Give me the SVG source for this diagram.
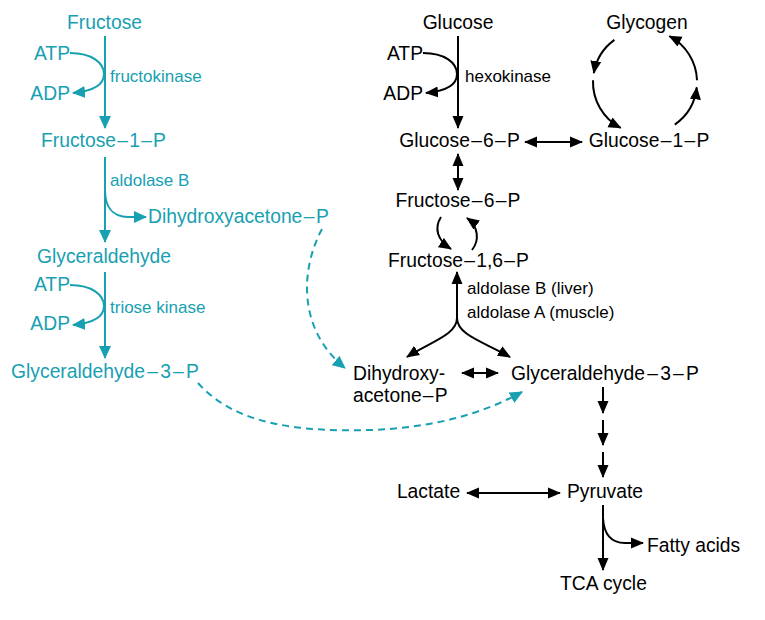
<svg xmlns="http://www.w3.org/2000/svg" width="765" height="620" viewBox="0 0 765 620">
<style>
text{font-family:"Liberation Sans",Arial,Helvetica,sans-serif;font-size:19.3px;fill:#000}
.t text,text.t{fill:#17a0b2}
.enz{font-size:17px}
.m{text-anchor:middle}
.e{text-anchor:end}
.lk{fill:none;stroke:#000;stroke-width:2}
.lt{fill:none;stroke:#17a0b2;stroke-width:2}
.dash{stroke-dasharray:7,5}
</style>
<defs>
<marker id="ak" markerUnits="userSpaceOnUse" markerWidth="13" markerHeight="12" refX="12" refY="6" orient="auto-start-reverse" viewBox="0 0 13 12">
<path d="M0,0.5 L13,6 L0,11.5 z" fill="#000"/>
</marker>
<marker id="at" markerUnits="userSpaceOnUse" markerWidth="13" markerHeight="13" refX="12" refY="6.5" orient="auto-start-reverse" viewBox="0 0 13 13">
<path d="M0,0.5 L13,6.5 L0,12.5 z" fill="#17a0b2"/>
</marker>
<path id="kin" d="M70,53 C92,53 104,63 104,74 C104,85 94,91 73,93"/>
</defs>
<rect width="765" height="620" fill="#fff"/>

<g id="connectors">
<line class="lt" x1="105" y1="36" x2="105" y2="128" marker-end="url(#at)"/>
<use href="#kin" class="lt" marker-end="url(#at)"/>
<line class="lt" x1="105" y1="157" x2="105" y2="242" marker-end="url(#at)"/>
<path class="lt" d="M105,190 C105,206 112,217 128,217 L146,217" marker-end="url(#at)"/>
<line class="lt" x1="105" y1="272" x2="105" y2="358" marker-end="url(#at)"/>
<use href="#kin" class="lt" transform="translate(0,232)" marker-end="url(#at)"/>
<path class="lt dash" d="M322,229 C300,270 298,330 345,368" marker-end="url(#at)"/>
<path class="lt dash" d="M198,383 C235,425 300,432 370,430 C430,428 480,415 522,392" marker-end="url(#at)"/>
<line class="lk" x1="458" y1="36" x2="458" y2="128" marker-end="url(#ak)"/>
<use href="#kin" class="lk" transform="translate(353,0)" marker-end="url(#ak)"/>
<line class="lk" x1="525" y1="142" x2="582" y2="142" marker-start="url(#ak)" marker-end="url(#ak)"/>
<path class="lk" d="M614.4,39.9 A52,52 0 0 0 593.8,73" marker-end="url(#ak)"/>
<path class="lk" d="M593,80.2 A52,52 0 0 0 620.6,127.9" marker-end="url(#ak)"/>
<path class="lk" d="M674.8,124.6 A52,52 0 0 0 696.7,87.4" marker-end="url(#ak)"/>
<path class="lk" d="M697,80.2 A52,52 0 0 0 669.4,36.1" marker-end="url(#ak)"/>
<line class="lk" x1="458" y1="154" x2="458" y2="190" marker-start="url(#ak)" marker-end="url(#ak)"/>
<path class="lk" d="M441,217 C434,228 437,240 451,249" marker-end="url(#ak)"/>
<path class="lk" d="M472,250 C480,240 478,226 467,218" marker-end="url(#ak)"/>
<line class="lk" x1="457" y1="320" x2="457" y2="272" marker-end="url(#ak)"/>
<path class="lk" d="M457,318 C457,335 430,342 407,357" marker-end="url(#ak)"/>
<path class="lk" d="M457,318 C457,335 484,342 510,357" marker-end="url(#ak)"/>
<line class="lk" x1="462" y1="373" x2="498" y2="373" marker-start="url(#ak)" marker-end="url(#ak)"/>
<line class="lk" x1="603" y1="387" x2="603" y2="413" marker-end="url(#ak)"/>
<line class="lk" x1="603" y1="420" x2="603" y2="445" marker-end="url(#ak)"/>
<line class="lk" x1="603" y1="452" x2="603" y2="477" marker-end="url(#ak)"/>
<line class="lk" x1="467" y1="493" x2="560" y2="493" marker-start="url(#ak)" marker-end="url(#ak)"/>
<line class="lk" x1="603" y1="505" x2="603" y2="570" marker-end="url(#ak)"/>
<path class="lk" d="M603,518 C604,535 612,543 625,543 L643,543" marker-end="url(#ak)"/>
</g>

<g class="t">
<g id="fructose"><text class="m" x="104.5" y="29">Fructose</text></g>
<g id="atp1"><text class="e" x="70" y="60">ATP</text></g>
<g id="adp1"><text class="e" x="70" y="100">ADP</text></g>
<g id="fructokinase"><text class="enz" x="110" y="82">fructokinase</text></g>
<g id="fructose1p"><text class="m" x="103.5" y="147">Fructose<tspan dx="1.2">–</tspan><tspan dx="1.2">1</tspan><tspan dx="1.2">–</tspan><tspan dx="1.2">P</tspan></text></g>
<g id="aldolaseB"><text class="enz" x="110" y="186">aldolase B</text></g>
<g id="dhap1"><text x="148" y="223">Dihydroxyacetone<tspan dx="1.5">–</tspan><tspan dx="1.5">P</tspan></text></g>
<g id="glyceraldehyde"><text class="m" x="104" y="263">Glyceraldehyde</text></g>
<g id="atp2"><text class="e" x="70" y="291">ATP</text></g>
<g id="adp2"><text class="e" x="70" y="330">ADP</text></g>
<g id="triosekinase"><text class="enz" x="110" y="313">triose kinase</text></g>
<g id="g3p1"><text class="m" x="105" y="378">Glyceraldehyde<tspan dx="2.2">–</tspan><tspan dx="2.2">3</tspan><tspan dx="2.2">–</tspan><tspan dx="2.2">P</tspan></text></g>
</g>

<g id="glucose"><text class="m" x="458" y="29">Glucose</text></g>
<g id="atp3"><text class="e" x="423" y="60">ATP</text></g>
<g id="adp3"><text class="e" x="423" y="100">ADP</text></g>
<g id="hexokinase"><text class="enz" x="465" y="82">hexokinase</text></g>
<g id="glycogen"><text class="m" x="647" y="29">Glycogen</text></g>
<g id="glucose6p"><text class="m" x="459.5" y="147">Glucose<tspan dx="1.2">–</tspan><tspan dx="1.2">6</tspan><tspan dx="1.2">–</tspan><tspan dx="1.2">P</tspan></text></g>
<g id="glucose1p"><text class="m" x="649" y="147">Glucose<tspan dx="1.2">–</tspan><tspan dx="1.2">1</tspan><tspan dx="1.2">–</tspan><tspan dx="1.2">P</tspan></text></g>
<g id="fructose6p"><text class="m" x="458" y="207">Fructose<tspan dx="1.2">–</tspan><tspan dx="1.2">6</tspan><tspan dx="1.2">–</tspan><tspan dx="1.2">P</tspan></text></g>
<g id="fructose16p"><text class="m" x="458.5" y="267">Fructose<tspan dx="1.2">–</tspan><tspan dx="1.2">1,6</tspan><tspan dx="1.2">–</tspan><tspan dx="1.2">P</tspan></text></g>
<g id="aldolases">
<text class="enz" x="467" y="294">aldolase B (liver)</text>
<text class="enz" x="467" y="318">aldolase A (muscle)</text>
</g>
<g id="dhap2"><text x="353" y="380">Dihydroxy-</text><text x="353" y="402">acetone<tspan dx="1.2">–</tspan><tspan dx="1.2">P</tspan></text></g>
<g id="g3p2"><text class="m" x="605" y="380">Glyceraldehyde<tspan dx="2.2">–</tspan><tspan dx="2.2">3</tspan><tspan dx="2.2">–</tspan><tspan dx="2.2">P</tspan></text></g>
<g id="lactate"><text class="m" x="428.5" y="498">Lactate</text></g>
<g id="pyruvate"><text class="m" x="605" y="498">Pyruvate</text></g>
<g id="fattyacids"><text x="647" y="552">Fatty acids</text></g>
<g id="tca"><text class="m" x="603.5" y="590">TCA cycle</text></g>
</svg>
